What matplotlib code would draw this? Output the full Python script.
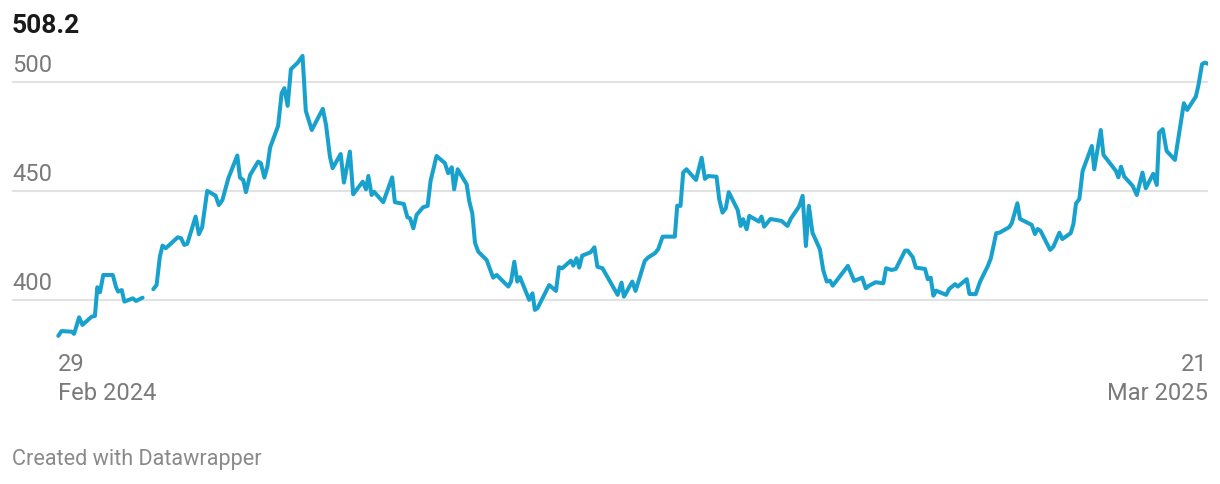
import matplotlib
matplotlib.use("Agg")
import matplotlib.pyplot as plt
import numpy as np
import pandas as pd

plt.rcParams['font.family'] = ['Roboto', 'DejaVu Sans']

start_date = pd.Timestamp("2024-02-29")
end_date = pd.Timestamp("2025-03-21")

# day offsets from 29 Feb 2024 and values (NaN = missing data gap)
day_offsets = [
    0, 1.1, 4.5, 5.3, 7.0, 8.1, 11.2, 12.3, 13.1, 14.0, 15.1, 18.3, 19.4, 20.1, 21.3, 22.2, 25.0, 26.1, 28.3,
    30.0,
    31.9, 33.0, 34.1, 35.0, 36.1, 40.1, 41.2, 42.3, 43.3, 46.1, 47.2, 48.3, 50.0, 52.8, 53.9, 55.1, 57.1,
    60.1, 61.0, 62.1, 63.0, 64.4, 67.1, 68.0, 69.2, 70.2, 71.1, 73.8, 75.0, 75.9, 77.0, 78.1, 80.4, 82.0,
    83.1, 85.1, 88.8, 89.9, 91.2, 92.1, 94.8, 95.9, 97.9, 99.0, 102.2, 103.3, 104.1, 105.2, 106.0, 109.1,
    112.1, 113.0, 116.0, 117.2, 118.1, 119.2, 120.3, 122.5, 124.0, 125.0, 127.0, 129.8, 130.9, 132.1, 132.9,
    134.1, 137.1, 138.0, 139.0, 139.9, 141.0, 143.8, 146.0, 147.2, 151.1, 152.0, 153.1, 154.1, 155.0, 158.1,
    159.2, 160.0, 160.9, 164.8, 167.1, 168.1, 169.2, 172.1, 172.9, 174.0, 174.9, 175.9, 178.7, 180.0, 181.0,
    182.7, 187.8, 189.1, 189.9, 192.7, 193.8, 196.9, 198.1, 200.3, 201.4, 202.9, 207.0, 207.8, 208.9, 209.8,
    210.9, 214.1, 216.0, 217.1, 218.2, 221.0, 221.9, 223.0, 224.1, 225.1, 228.1, 229.1, 229.9, 231.1, 232.0,
    235.2, 236.1, 237.0, 239.1, 242.8, 244.8, 246.0, 248.7, 249.9, 251.0, 252.0, 253.2, 255.7, 256.8, 258.0,
    259.1, 260.0, 265.1, 267.2, 269.9, 271.1, 272.2, 274.4, 277.0, 277.9, 279.8, 281.2, 284.3, 285.2, 286.9,
    287.9, 291.0, 291.9, 292.9, 293.8, 294.7, 298.1, 299.1, 301.1, 302.0, 305.0, 305.9, 308.0, 309.5, 312.1,
    313.1, 314.9, 316.0, 319.2, 320.1, 322.0, 322.9, 326.8, 327.9, 328.8, 329.8, 333.0, 334.1, 336.1, 337.1,
    339.9, 340.8, 341.7, 342.8, 343.9, 347.0, 347.8, 350.0, 350.9, 355.1, 355.9, 356.8, 357.9, 360.7, 362.1,
    364.0, 365.1, 367.6, 368.8, 369.6, 370.8, 372.1, 374.9, 377.9, 379.0, 381.9, 382.7, 384.0, 384.9, 386.0,
]
values = [
    383.4, 385.6, 385.3, 384.3, 391.9, 388.4, 392.2, 392.5, 405.7, 403.4, 411.3, 411.3, 405.7, 403.7, 404.4, 399.1, 400.6, 399.4, 400.9,
    np.nan,
    404.8, 406.7, 419.7, 424.8, 423.6, 428.6, 428.2, 425.1, 425.6, 438.1, 430.0, 433.2, 449.9, 447.7, 443.4, 445.7, 455.7,
    466.1, 456.0, 454.9, 449.3, 457.2, 463.3, 462.6, 456.0, 461.0, 469.7, 479.7, 494.7, 497.0, 488.9, 505.7, 508.7, 511.8,
    486.6, 477.8, 487.5, 480.1, 465.6, 460.3, 466.8, 453.7, 467.9, 448.3, 454.1, 450.6, 456.7, 448.0, 449.5, 444.7,
    456.1, 444.7, 443.9, 437.8, 437.3, 432.7, 438.9, 442.4, 443.0, 454.5, 465.9, 462.6, 458.0, 460.7, 450.6,
    459.8, 452.9, 445.0, 439.6, 426.1, 422.0, 418.2, 410.1, 411.3, 406.0, 408.3, 417.4, 408.3, 410.3, 399.9,
    402.9, 395.3, 396.1, 406.7, 404.0, 414.9, 414.4, 417.9, 415.6, 419.0, 414.7, 420.2, 421.7, 424.0, 415.1,
    414.4, 402.2, 407.8, 401.4, 408.3, 404.0, 417.8, 419.4, 421.3, 423.1, 428.9, 428.9, 443.1, 443.0, 458.3,
    459.8, 454.9, 465.1, 455.4, 456.7, 456.4, 446.1, 439.9, 441.9, 449.3, 441.1, 433.8, 436.9, 432.3, 438.4,
    435.8, 438.1, 433.5, 437.0, 436.1, 433.8, 437.3, 442.7, 447.6, 424.6, 443.0, 430.7, 423.1, 413.6, 408.3,
    408.7, 406.4, 415.5, 408.6, 410.1, 405.2, 406.4, 408.0, 407.5, 414.4, 413.6, 414.1, 422.5, 422.5, 419.4,
    414.7, 414.1, 409.4, 410.1, 401.8, 404.1, 402.2, 404.9, 407.1, 406.0, 409.4, 402.6, 402.5, 408.3, 415.5,
    419.0, 430.5, 430.7, 433.2, 435.0, 444.2, 437.0, 434.3, 430.1, 432.4, 431.5, 422.8, 424.3, 430.7, 427.8,
    430.5, 434.6, 444.2, 446.1, 459.0, 470.5, 459.8, 477.8, 466.4, 459.0, 456.1, 461.0, 456.4, 452.2, 448.0,
    458.3, 451.1, 457.7, 452.6, 476.6, 478.2, 468.2, 464.1, 490.1, 487.0, 493.1, 497.7, 508.0, 508.7, 508.2,
]

y_ticks = [400, 450, 500]
last_value_label = "508.2"
x_tick_labels = [("29\nFeb 2024", start_date, "left"), ("21\nMar 2025", end_date, "right")]

dates = start_date + pd.to_timedelta(np.array(day_offsets), unit="D")

W, H = 1220, 484
fig = plt.figure(figsize=(W / 100, H / 100), dpi=100)

ax_left, ax_right = 12, 1208
ax_top, ax_bottom = 50, 345
ax = fig.add_axes([ax_left / W, 1 - ax_bottom / H, (ax_right - ax_left) / W, (ax_bottom - ax_top) / H])

line_color = "#18a1cd"
grid_color = "#e2e2e2"
text_gray = "#7a7a7a"

# grid lines
for t in y_ticks:
    ax.axhline(t, color=grid_color, lw=1.5, zorder=1)

ax.plot(dates, values, color=line_color, lw=2.9, solid_joinstyle="round", solid_capstyle="round", zorder=3)

lead_days = (58.3 - ax_left) / (1208.3 - 58.3) * (end_date - start_date).days
ax.set_xlim(start_date - pd.Timedelta(days=lead_days), end_date)
ax.set_ylim(379.2, 514.5)
ax.axis("off")

# y tick labels above the grid lines
for t in y_ticks:
    ax.annotate(str(t), xy=(0, t), xycoords=("axes fraction", "data"), xytext=(0, 3),
                textcoords="offset points", ha="left", va="bottom", fontsize=17, color=text_gray)

# x tick labels
for label, d, ha in x_tick_labels:
    ax.annotate(label, xy=(d, 0), xycoords=("data", "axes fraction"), xytext=(0, -6),
                textcoords="offset points", ha=ha, va="top", fontsize=17, color=text_gray,
                linespacing=1.3)

fig.text(12 / W, 1 - 26 / H, last_value_label, fontsize=19, fontweight="bold", color="#1a1a1a",
         ha="left", va="center")
fig.text(12 / W, 1 - 459 / H, "Created with Datawrapper", fontsize=15.6, color="#8a8a8a",
         ha="left", va="center")

fig.savefig("out.png", dpi=100)
